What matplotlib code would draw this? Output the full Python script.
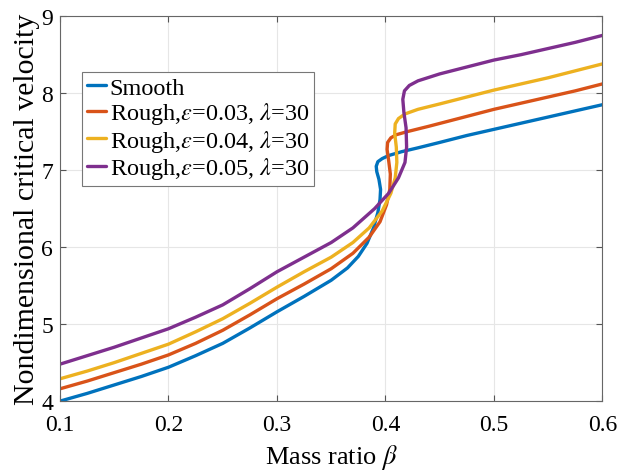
import matplotlib
matplotlib.use("Agg")
import matplotlib.pyplot as plt

# values (beta, velocity) - curves fold back near 0.4
smooth_beta = [0.10, 0.125, 0.15, 0.175, 0.20, 0.225, 0.25, 0.275, 0.30, 0.325, 0.35, 0.365,
               0.375, 0.383, 0.389, 0.393, 0.395, 0.3955, 0.394, 0.392, 0.3915, 0.393, 0.397,
               0.403, 0.415, 0.43, 0.45, 0.475, 0.50, 0.525, 0.55, 0.575, 0.60]
smooth_v = [4.00, 4.10, 4.21, 4.32, 4.44, 4.59, 4.75, 4.95, 5.16, 5.36, 5.57, 5.73,
            5.88, 6.05, 6.25, 6.45, 6.62, 6.75, 6.88, 6.98, 7.05, 7.11, 7.15,
            7.19, 7.24, 7.29, 7.36, 7.45, 7.53, 7.61, 7.69, 7.77, 7.85]

r03_beta = [0.10, 0.125, 0.15, 0.175, 0.20, 0.225, 0.25, 0.275, 0.30, 0.325, 0.35, 0.37,
            0.385, 0.395, 0.401, 0.404, 0.4045, 0.403, 0.4015, 0.402, 0.405, 0.41, 0.42,
            0.44, 0.47, 0.50, 0.525, 0.55, 0.575, 0.60]
r03_v = [4.16, 4.26, 4.37, 4.48, 4.60, 4.75, 4.92, 5.12, 5.33, 5.52, 5.72, 5.92,
         6.13, 6.33, 6.55, 6.75, 6.95, 7.12, 7.27, 7.36, 7.42, 7.46, 7.50,
         7.57, 7.68, 7.79, 7.87, 7.95, 8.03, 8.12]

r04_beta = [0.10, 0.125, 0.15, 0.175, 0.20, 0.225, 0.25, 0.275, 0.30, 0.325, 0.35, 0.37,
            0.385, 0.397, 0.405, 0.409, 0.4105, 0.410, 0.4085, 0.409, 0.412, 0.418, 0.43,
            0.45, 0.475, 0.50, 0.525, 0.55, 0.575, 0.60]
r04_v = [4.29, 4.39, 4.50, 4.62, 4.74, 4.90, 5.07, 5.27, 5.48, 5.68, 5.87, 6.06,
         6.25, 6.47, 6.70, 6.90, 7.10, 7.30, 7.48, 7.60, 7.67, 7.73, 7.79,
         7.86, 7.95, 8.04, 8.12, 8.20, 8.29, 8.38]

r05_beta = [0.10, 0.125, 0.15, 0.175, 0.20, 0.225, 0.25, 0.275, 0.30, 0.325, 0.35, 0.37,
            0.39, 0.403, 0.412, 0.418, 0.4195, 0.419, 0.417, 0.416, 0.4175, 0.422, 0.43,
            0.45, 0.475, 0.50, 0.525, 0.55, 0.575, 0.60]
r05_v = [4.48, 4.59, 4.70, 4.82, 4.94, 5.09, 5.25, 5.46, 5.68, 5.87, 6.06, 6.25,
         6.50, 6.70, 6.90, 7.10, 7.30, 7.55, 7.75, 7.92, 8.03, 8.10, 8.16,
         8.25, 8.34, 8.43, 8.50, 8.58, 8.66, 8.75]

labels = ["Smooth",
          r"Rough,$\varepsilon$=0.03, $\lambda$=30",
          r"Rough,$\varepsilon$=0.04, $\lambda$=30",
          r"Rough,$\varepsilon$=0.05, $\lambda$=30"]
colors = ["#0072BD", "#D95319", "#EDB120", "#7E2F8E"]

plt.rcParams["font.family"] = ["Liberation Serif", "DejaVu Serif"]
plt.rcParams["mathtext.fontset"] = "stix"

fig = plt.figure(figsize=(6.22, 4.77), dpi=100)
ax = fig.add_axes([0.0965, 0.157, 0.872, 0.807])

series = [(smooth_beta, smooth_v), (r03_beta, r03_v), (r04_beta, r04_v), (r05_beta, r05_v)]
for (b, v), lab, c in zip(series, labels, colors):
    ax.plot(b, v, color=c, linewidth=2.4, label=lab,
            solid_capstyle="round", solid_joinstyle="round")

ax.set_xlim(0.1, 0.6)
ax.set_ylim(4, 9)
ax.set_xticks([0.1, 0.2, 0.3, 0.4, 0.5, 0.6])
ax.set_yticks([4, 5, 6, 7, 8, 9])
ax.grid(True, color="#e6e6e6", linewidth=0.8)
ax.set_axisbelow(True)
ax.tick_params(direction="in", top=True, right=True, labelsize=17, length=4,
               color="#555555")
ax.tick_params(axis="x", pad=9)
ax.tick_params(axis="y", pad=5)
for s in ax.spines.values():
    s.set_color("#666666")
    s.set_linewidth(0.8)

ax.set_xlabel(r"Mass ratio $\beta$", fontsize=19, labelpad=5)
ax.set_ylabel("Nondimensional critical velocity", fontsize=21.5, labelpad=1)

leg = ax.legend(loc="upper left", bbox_to_anchor=(0.04, 0.855), fontsize=17.5,
                handlelength=0.8, handletextpad=0.15, borderpad=0.2,
                labelspacing=0.06, borderaxespad=0.0, fancybox=False,
                framealpha=1.0, edgecolor="#777777")
leg.get_frame().set_linewidth(0.8)

fig.savefig("out.png", dpi=100)
